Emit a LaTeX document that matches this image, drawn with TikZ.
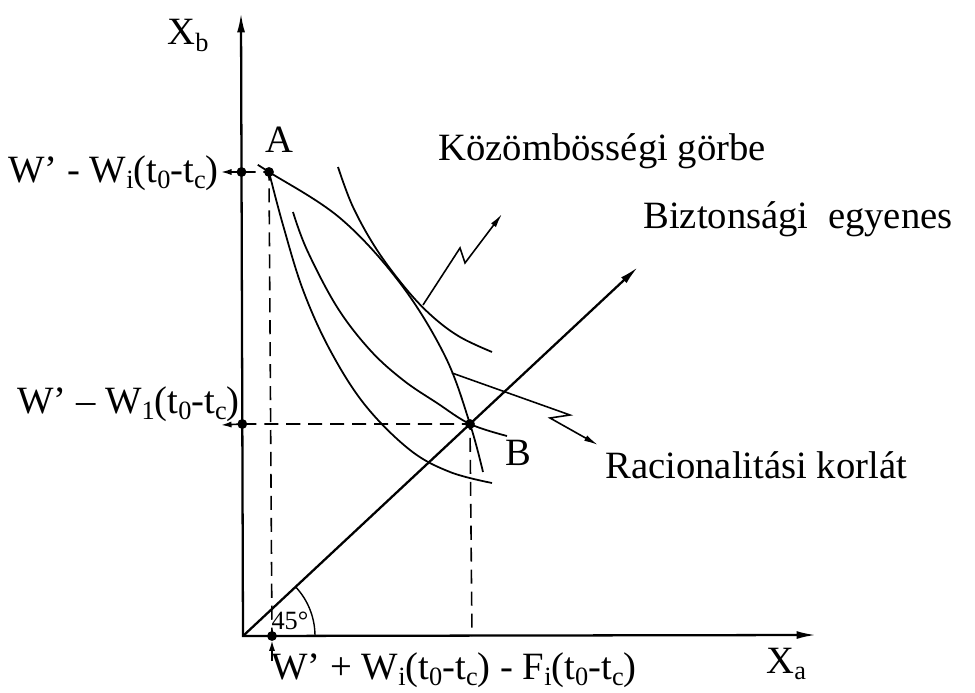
\documentclass[tikz,border=0pt]{standalone}
\usepackage{fontspec}
\setmainfont{Liberation Serif}
\usetikzlibrary{arrows.meta}
\newcommand{\lowsub}[1]{\raisebox{-0.35ex}{\fontsize{15}{15}\selectfont #1}}

\begin{document}
\begin{tikzpicture}[
    x=0.02cm, y=0.02cm,
    every node/.style={font=\fontsize{22}{26}\selectfont, inner sep=0pt},
    >={Latex[length=11pt,width=4.5pt]},
    axis/.style={line width=1.3pt},
    curve/.style={line width=1pt, smooth, tension=0.6},
    guide/.style={line width=0.9pt, dash pattern=on 8pt off 4.5pt},
    pointer/.style={line width=0.9pt, -{Latex[length=8pt,width=3.5pt]}},
    tick/.style={line width=0.9pt, -{Latex[length=6pt,width=3.5pt]}},
  ]
    \useasboundingbox (0,0) rectangle (975,-693);

    % Axes and the 45 degree line
    \coordinate (O) at (243,-636);
    \coordinate (ytop) at (241,-13);
    \coordinate (xend) at (816,-635);
    \coordinate (dtip) at (638,-267);
    \draw[axis, <->] (ytop) -- (O) -- (xend);
    \draw[axis, ->] (O) -- (dtip);
    \draw[line width=0.8pt] (O) ++(72,0) arc[start angle=0, end angle=43, radius=1.44cm];
    \node[font=\fontsize{15}{17}\selectfont] (deg) at (290,-621) {45°};

    % Points A, B and their projections
    \coordinate (A) at (269,-172);
    \coordinate (B) at (470,-424);
    \coordinate (Ay) at (241.5,-172);
    \coordinate (By) at (242.3,-424);
    \coordinate (Ax) at (272,-636);
    \coordinate (Bx) at (472,-636);
    \draw[guide] (Ay) -- (A) -- (Ax);
    \draw[guide] (By) -- (B) -- (Bx);

    % Rationality bounds (both through A)
    \draw[curve] plot coordinates {(258,-165) (269,-172) (340,-218) (400,-283) (445,-356) (470,-424) (483,-472)};
    \draw[curve] plot coordinates {(269,-172) (283,-225) (303,-290) (330,-350) (365,-405) (410,-450) (450,-472) (492,-483)};

    % Indifference curves
    \draw[curve] plot coordinates {(293,-212) (307,-250) (337,-307) (370,-350) (403,-380) (437,-403) (470,-424) (507,-436)};
    \draw[curve] plot coordinates {(338,-167) (353,-207) (377,-250) (407,-290) (433,-317) (460,-337) (492,-352)};

    % Zigzag pointers
    \coordinate (k0) at (423,-305);
    \coordinate (k1) at (460,-248);
    \coordinate (k2) at (465,-263);
    \coordinate (k3) at (502,-214);
    \draw[pointer] (k0) -- (k1) -- (k2) -- (k3);
    \coordinate (r0) at (452,-373);
    \coordinate (r1) at (570,-415);
    \coordinate (r2) at (550,-418);
    \coordinate (r3) at (598,-445);
    \draw[pointer] (r0) -- (r1) -- (r2) -- (r3);

    % Small arrows to the axis labels
    \coordinate (AyL) at (221,-172);
    \coordinate (ByL) at (221,-425);
    \coordinate (AxL) at (272,-661);
    \draw[tick] (Ay) -- (AyL);
    \draw[tick] (By) -- (ByL);
    \draw[tick, shorten >=2.5pt] (AxL) -- (Ax);

    % Dots
    \foreach \p in {Ay,A,By,B,Ax}
      \fill (\p) circle[radius=2.8pt];

    % Labels
    \node[anchor=base west] (xb) at (167,-45) {X\lowsub{b}};
    \node[anchor=base west] (xa) at (766,-673) {X\lowsub{a}};
    \node[anchor=base west] (la) at (265,-153) {A};
    \node[anchor=base west] (lb) at (505,-465) {B};
    \node[anchor=base east] (wtop) at (219,-182) {W’ - W\lowsub{i}(t\lowsub{0}-t\lowsub{c})};
    \node[anchor=base east] (wmid) at (240,-413) {W’ – W\lowsub{1}(t\lowsub{0}-t\lowsub{c})};
    \node[anchor=base west] (wbot) at (271,-679) {W’ + W\lowsub{i}(t\lowsub{0}-t\lowsub{c}) - F\lowsub{i}(t\lowsub{0}-t\lowsub{c})};
    \node[anchor=base west] (kozom) at (438,-160) {Közömbösségi görbe};
    \node[anchor=base west] (bizt) at (643,-228) {Biztonsági\ \ egyenes};
    \node[anchor=base west] (racio) at (605,-478) {Racionalitási korlát};

  \end{tikzpicture}
\end{document}
